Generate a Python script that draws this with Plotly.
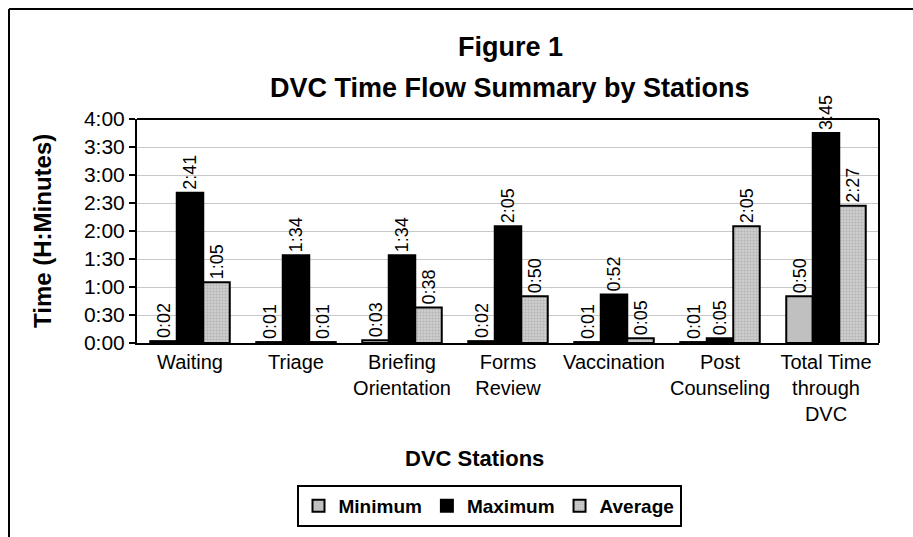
import plotly.graph_objects as go

categories = ["Waiting", "Triage", "Briefing<br>Orientation", "Forms<br>Review",
              "Vaccination", "Post<br>Counseling", "Total Time<br>through<br>DVC"]
minimum = [2, 1, 3, 2, 1, 1, 50]
maximum = [161, 94, 94, 125, 52, 5, 225]
average = [65, 1, 38, 50, 5, 125, 147]
tick_vals = [0, 30, 60, 90, 120, 150, 180, 210, 240]
tick_text = ["0:00", "0:30", "1:00", "1:30", "2:00", "2:30", "3:00", "3:30", "4:00"]


def hm(m):
    return f"{m // 60}:{m % 60:02d}"


W, H = 913, 537
L, R, T, B = 137, 879, 119, 343
pw, ph = R - L, B - T


def px(x):
    return (x - L) / pw


def py(y):
    return (B - y) / ph


FONT = "Liberation Sans, Arial, sans-serif"

fig = go.Figure()
series = [
    ("Minimum", minimum, dict(color="#c0c0c0")),
    ("Maximum", maximum, dict(color="#000000")),
    ("Average", average, dict(color="#cccccc",
                               pattern=dict(shape=".", fgcolor="#9a9a9a", bgcolor="#d4d4d4",
                                            size=3, solidity=0.5))),
]
for name, vals, mk in series:
    fig.add_trace(go.Bar(
        name=name, x=categories, y=vals,
        marker=dict(line=dict(color="black", width=2), **mk),
        text=[hm(v) for v in vals], textposition="outside", textangle=-90,
        textfont=dict(size=18, color="black", family=FONT),
        cliponaxis=False, constraintext="none",
    ))

fig.update_layout(
    width=W, height=H,
    margin=dict(l=L, r=W - R, t=T, b=H - B, autoexpand=False),
    paper_bgcolor="white", plot_bgcolor="white",
    barmode="group", bargap=0.25, bargroupgap=0,
    font=dict(family=FONT, size=21, color="black"),
    xaxis=dict(showline=True, linecolor="black", linewidth=2, ticks="",
               tickfont=dict(size=20), tickangle=0, mirror=False),
    yaxis=dict(range=[0, 240], tickvals=tick_vals, ticktext=tick_text,
               showgrid=True, gridcolor="#c8c8c8", gridwidth=1,
               showline=True, linecolor="black", linewidth=2,
               ticks="outside", ticklen=6, tickcolor="black", tickwidth=1.5,
               tickfont=dict(size=21), zeroline=False),
    showlegend=True,
    legend=dict(orientation="h", x=px(489), xanchor="center", xref="paper",
                y=py(485), yanchor="top", bordercolor="black", borderwidth=2,
                font=dict(size=19, family=FONT, weight="bold"),
                itemwidth=30, traceorder="normal"),
    uniformtext=dict(mode=False),
)

# title (two lines)
fig.add_annotation(text="<b>Figure 1</b>", xref="paper", yref="paper",
                   x=px(510), y=py(47), xanchor="center", yanchor="middle",
                   showarrow=False, font=dict(size=27, family=FONT))
fig.add_annotation(text="<b>DVC Time Flow Summary by Stations</b>", xref="paper", yref="paper",
                   x=px(510), y=py(88), xanchor="center", yanchor="middle",
                   showarrow=False, font=dict(size=27, family=FONT))
fig.add_annotation(text="<b>DVC Stations</b>", xref="paper", yref="paper",
                   x=px(474), y=py(458), xanchor="center", yanchor="middle",
                   showarrow=False, font=dict(size=22, family=FONT))
fig.add_annotation(text="<b>Time (H:Minutes)</b>", xref="paper", yref="paper",
                   x=px(42), y=py(231), xanchor="center", yanchor="middle",
                   showarrow=False, textangle=-90, font=dict(size=24, family=FONT))

# plot-area frame top/right
fig.add_shape(type="line", xref="paper", yref="paper", x0=0, x1=1, y0=1, y1=1,
              line=dict(color="black", width=2))
fig.add_shape(type="line", xref="paper", yref="paper", x0=1, x1=1, y0=0, y1=1,
              line=dict(color="black", width=2))
# outer chart frame
fig.add_shape(type="line", xref="paper", yref="paper", x0=px(9), x1=px(930),
              y0=py(9), y1=py(9), line=dict(color="black", width=2))
fig.add_shape(type="line", xref="paper", yref="paper", x0=px(9), x1=px(9),
              y0=py(9), y1=py(560), line=dict(color="black", width=2))

fig.write_html("out.html", config={"displayModeBar": False},
               post_script="document.body.style.margin='0';")
